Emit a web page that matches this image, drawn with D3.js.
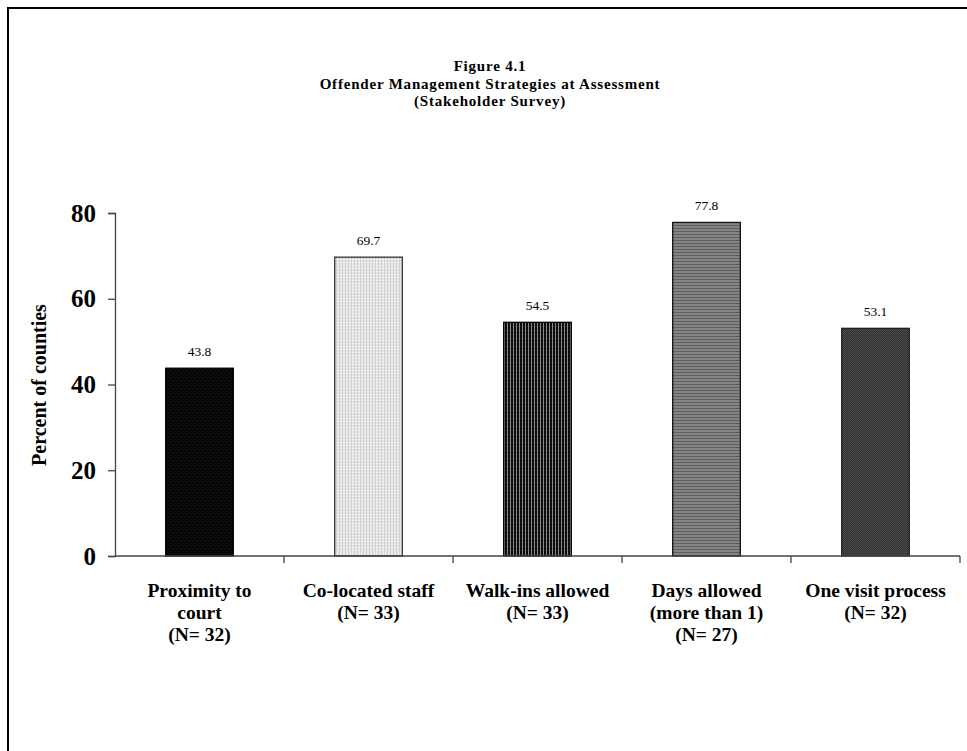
<!DOCTYPE html>
<html>
<head>
<meta charset="utf-8">
<script src="https://cdn.jsdelivr.net/npm/d3@7"></script>
<style>
html,body{margin:0;padding:0;background:#fff;}
svg{display:block;}
text{font-family:"Liberation Serif","Times New Roman",serif;}
</style>
</head>
<body>
<svg id="chart" width="967" height="751"></svg>
<script>
const categories = ["Proximity to court (N= 32)", "Co-located staff (N= 33)", "Walk-ins allowed (N= 33)", "Days allowed (more than 1) (N= 27)", "One visit process (N= 32)"];
const categoryLines = [["Proximity to", "court", "(N= 32)"], ["Co-located staff", "(N= 33)"], ["Walk-ins allowed", "(N= 33)"], ["Days allowed", "(more than 1)", "(N= 27)"], ["One visit process", "(N= 32)"]];
const values = [43.8, 69.7, 54.5, 77.8, 53.1];
const yTicks = [0, 20, 40, 60, 80];
const titleLines = ["Figure 4.1", "Offender Management Strategies at Assessment", "(Stakeholder Survey)"];
const yLabel = "Percent of counties";

const svg = d3.select("#chart");
const defs = svg.append("defs");

function pat(id, w, h, bg, draw) {
  const p = defs.append("pattern").attr("id", id).attr("patternUnits", "userSpaceOnUse")
    .attr("width", w).attr("height", h);
  p.append("rect").attr("width", w).attr("height", h).attr("fill", bg);
  draw(p);
}
pat("p0", 4, 4, "#050505", p => {
  p.append("rect").attr("x", 1).attr("y", 1).attr("width", 1).attr("height", 1).attr("fill", "#2a2a2a");
  p.append("rect").attr("x", 3).attr("y", 3).attr("width", 1).attr("height", 1).attr("fill", "#1e1e1e");
});
pat("p1", 3, 3, "#e4e4e4", p => {
  p.append("rect").attr("x", 0).attr("y", 0).attr("width", 1).attr("height", 3).attr("fill", "#cfcfcf");
  p.append("rect").attr("x", 1).attr("y", 1).attr("width", 2).attr("height", 1).attr("fill", "#f4f4f4");
});
pat("p2", 3, 4, "#0a0a0a", p => {
  p.append("rect").attr("x", 0).attr("y", 0).attr("width", 1).attr("height", 4).attr("fill", "#8a8a8a");
  p.append("rect").attr("x", 1).attr("y", 2).attr("width", 2).attr("height", 1).attr("fill", "#1c1c1c");
});
pat("p3", 3, 3, "#858585", p => {
  p.append("rect").attr("x", 0).attr("y", 0).attr("width", 3).attr("height", 1).attr("fill", "#5e5e5e");
});
pat("p4", 2, 2, "#2c2c2c", p => {
  p.append("rect").attr("x", 0).attr("y", 0).attr("width", 1).attr("height", 1).attr("fill", "#555");
  p.append("rect").attr("x", 1).attr("y", 1).attr("width", 1).attr("height", 1).attr("fill", "#484848");
});
const fills = ["url(#p0)", "url(#p1)", "url(#p2)", "url(#p3)", "url(#p4)"];
const strokes = ["#000", "#333", "#000", "#111", "#222"];

// outer frame
svg.append("rect").attr("x", 8).attr("y", 8).attr("width", 980).attr("height", 760)
  .attr("fill", "none").attr("stroke", "#000").attr("stroke-width", 2);

const x = d3.scaleBand().domain(categories).range([115, 960]).paddingInner(0.6).paddingOuter(0.3);
const y = d3.scaleLinear().domain([0, 80]).range([556, 213]);

// title
titleLines.forEach((l, i) => svg.append("text").attr("text-anchor", "middle").attr("font-weight", "bold")
  .attr("font-size", 15).attr("letter-spacing", 0.8).attr("fill", "#000")
  .attr("x", 490).attr("y", 71 + i * 17.5).text(l));

// y axis
const yAxis = svg.append("g").attr("transform", "translate(115,0)")
  .call(d3.axisLeft(y).tickValues(yTicks).tickSize(7).tickPadding(12).tickFormat(d3.format("d")));
yAxis.select(".domain").attr("stroke", "#444").attr("stroke-width", 1.3);
yAxis.selectAll(".tick line").attr("stroke", "#444").attr("stroke-width", 1.3);
yAxis.selectAll(".tick text").attr("font-size", 25).attr("font-weight", "bold").attr("fill", "#000")
  .attr("font-family", "'Liberation Serif','Times New Roman',serif");

// y label
svg.append("text").attr("transform", "translate(46,385) rotate(-90)").attr("text-anchor", "middle")
  .attr("font-size", 20).attr("font-weight", "bold").attr("fill", "#000").text(yLabel);

// bars
svg.selectAll("rect.bar").data(values).join("rect").attr("class", "bar")
  .attr("x", (d, i) => x(categories[i])).attr("width", x.bandwidth())
  .attr("y", d => y(d)).attr("height", d => y(0) - y(d))
  .attr("fill", (d, i) => fills[i]).attr("stroke", (d, i) => strokes[i]).attr("stroke-width", 1.3);

// value labels
svg.selectAll("text.val").data(values).join("text").attr("class", "val")
  .attr("x", (d, i) => x(categories[i]) + x.bandwidth() / 2).attr("y", d => y(d) - 12)
  .attr("text-anchor", "middle").attr("font-size", 13.5).attr("fill", "#000").text(d => d.toFixed(1));

// x axis
svg.append("line").attr("x1", 115).attr("x2", 960).attr("y1", y(0)).attr("y2", y(0))
  .attr("stroke", "#444").attr("stroke-width", 1.3);
const step = x.step();
d3.range(1, categories.length + 1).forEach(k => {
  svg.append("line").attr("x1", 115 + step * k).attr("x2", 115 + step * k)
    .attr("y1", y(0)).attr("y2", y(0) + 7).attr("stroke", "#444").attr("stroke-width", 1.3);
});

// category labels
categories.forEach((c, i) => {
  const tx = svg.append("text").attr("text-anchor", "middle").attr("font-size", 19.5).attr("font-weight", "bold").attr("fill", "#000");
  categoryLines[i].forEach((l, j) => tx.append("tspan").attr("x", x(c) + x.bandwidth() / 2).attr("y", 597 + j * 22).text(l));
});
</script>
</body>
</html>
